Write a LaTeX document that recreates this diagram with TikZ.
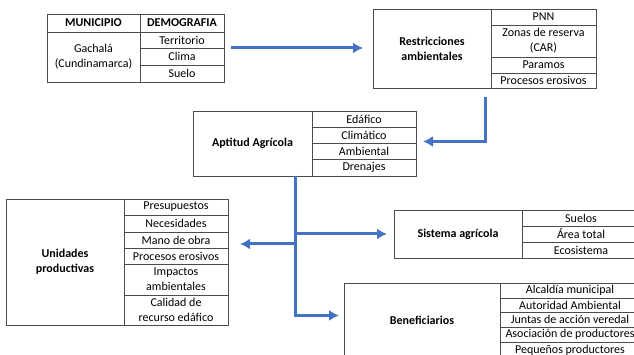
\documentclass[tikz,border=0pt]{standalone}
\usepackage{fontspec}
\setmainfont{Carlito}
\usepackage{xcolor}
\usepackage{tikz}
\usetikzlibrary{arrows.meta}
\usetikzlibrary{positioning}
\definecolor{flowblue}{HTML}{4472C4}
\tikzstyle{cell} = [draw=black!70, line width=0.9pt, inner sep=0pt, outer sep=0pt, align=center, font=\fontsize{12}{15}\selectfont]
\tikzstyle{headcell} = [cell, font=\fontsize{12}{15}\selectfont\bfseries]
\tikzstyle{flow} = [draw=flowblue, line width=3pt, -{Latex[length=10pt,width=11pt]}]

\begin{document}
\begin{tikzpicture}[x=1pt, y=-1pt]
	\useasboundingbox (0,0) rectangle (634,355);
	\clip (0,0) rectangle (634,355);
	
	% Municipio table
	\node (muni) [headcell,
	minimum width = 93pt,
	minimum height = 18pt,
	anchor = north west] at (47,14) {MUNICIPIO};
	\node (demo) [headcell, minimum width = 84pt, minimum height = 18pt, right=0pt of muni] {DEMOGRAFIA};
	\node (gach) [cell,
	minimum width = 93pt,
	minimum height = 50pt,
	below=0pt of muni] {Gachalá\\(Cundinamarca)};
	\node (terr) [cell, minimum width = 84pt, minimum height = 16pt, below=0pt of demo] {Territorio};
	\node (clima) [cell, minimum width = 84pt, minimum height = 17pt, below=0pt of terr] {Clima};
	\node (suelo) [cell, minimum width = 84pt, minimum height = 17pt, below=0pt of clima] {Suelo};
	
	% Restricciones ambientales
	\node (restr) [headcell,
	minimum width = 118pt,
	minimum height = 79pt,
	anchor = north west] at (373,9) {Restricciones\\ambientales};
	\node (pnn) [cell, minimum width = 105pt, minimum height = 16pt, anchor = north west] at (restr.north east) {PNN};
	\node (zonas) [cell, minimum width = 105pt, minimum height = 32pt, below=0pt of pnn] {Zonas de reserva\\(CAR)};
	\node (paramos) [cell, minimum width = 105pt, minimum height = 16pt, below=0pt of zonas] {Paramos};
	\node (erosR) [cell, minimum width = 105pt, minimum height = 15pt, below=0pt of paramos] {Procesos erosivos};
	
	% Aptitud agricola
	\node (aptitud) [headcell,
	minimum width = 119pt,
	minimum height = 65pt,
	anchor = north west] at (193,111) {Aptitud Agrícola};
	\node (edaf) [cell, minimum width = 104pt, minimum height = 16.25pt, anchor = north west] at (aptitud.north east) {Edáfico};
	\node (climat) [cell, minimum width = 104pt, minimum height = 16.25pt, below=0pt of edaf] {Climático};
	\node (ambient) [cell, minimum width = 104pt, minimum height = 16.25pt, below=0pt of climat] {Ambiental};
	\node (dren) [cell, minimum width = 104pt, minimum height = 16.25pt, below=0pt of ambient] {Drenajes};
	
	% Unidades productivas
	\node (unid) [headcell,
	minimum width = 118pt,
	minimum height = 126pt,
	anchor = north west] at (6,199) {Unidades\\productivas};
	\node (presu) [cell, minimum width = 104pt, minimum height = 16pt, anchor = north west] at (unid.north east) {Presupuestos};
	\node (neces) [cell, minimum width = 104pt, minimum height = 17pt, below=0pt of presu] {Necesidades};
	\node (mano) [cell, minimum width = 104pt, minimum height = 16pt, below=0pt of neces] {Mano de obra};
	\node (erosU) [cell, minimum width = 104pt, minimum height = 16pt, below=0pt of mano] {Procesos erosivos};
	\node (impac) [cell, minimum width = 104pt, minimum height = 31pt, below=0pt of erosU] {Impactos\\ambientales};
	\node (calid) [cell, minimum width = 104pt, minimum height = 30pt, below=0pt of impac] {Calidad de\\recurso edáfico};
	
	% Sistema agricola
	\node (sist) [headcell,
	minimum width = 128pt,
	minimum height = 48pt,
	anchor = north west] at (394,210) {Sistema agrícola};
	\node (suelos) [cell, minimum width = 118pt, minimum height = 16pt, anchor = north west] at (sist.north east) {Suelos};
	\node (area) [cell, minimum width = 118pt, minimum height = 16pt, below=0pt of suelos] {Área total};
	\node (ecos) [cell, minimum width = 118pt, minimum height = 16pt, below=0pt of area] {Ecosistema};
	
	% Beneficiarios
	\node (benef) [headcell,
	minimum width = 156pt,
	minimum height = 75pt,
	anchor = north west] at (344,283) {Beneficiarios};
	\node (alcal) [cell, minimum width = 140pt, minimum height = 15pt, anchor = north west] at (benef.north east) {Alcaldía municipal};
	\node (autor) [cell, minimum width = 140pt, minimum height = 14.5pt, below=0pt of alcal] {Autoridad Ambiental};
	\node (juntas) [cell, minimum width = 140pt, minimum height = 14.5pt, below=0pt of autor] {Juntas de acción veredal};
	\node (asoc) [cell, minimum width = 140pt, minimum height = 15pt, below=0pt of juntas] {Asociación de productores};
	\node (peque) [cell, minimum width = 140pt, minimum height = 16pt, below=0pt of asoc] {Pequeños productores};
	
	% Flow arrows
	\draw [flow, shorten <=7pt, shorten >=10pt] (terr.south east) -- (restr.west |- terr.south east);
	\draw [flow, shorten <=9pt, shorten >=7pt] ([xshift=-6pt]restr.south east) |- ([yshift=2pt]ambient.north east);
	
	\coordinate (trunk) at ([xshift=-17pt]aptitud.south east);
	\coordinate (leftjoin) at ([yshift=4pt]erosU.north east);
	\draw [flow, shorten >=5pt] (trunk) |- ([yshift=5pt]benef.west);
	\draw [flow, shorten >=7pt] (trunk |- sist.west) -- (sist.west);
	\draw [flow, shorten >=12pt] (trunk |- leftjoin) -- (leftjoin);
\end{tikzpicture}
\end{document}
